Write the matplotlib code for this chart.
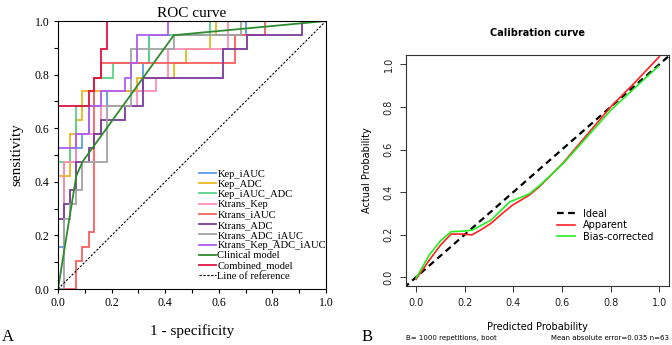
import numpy as np
import matplotlib
matplotlib.use('Agg')
import matplotlib.pyplot as plt

#* ROC curve data (1 - specificity, sensitivity), step corners
kep_iauc_x = [0, 0, 0.023, 0.023, 0.068, 0.068, 0.091, 0.091, 0.114, 0.114, 0.182, 0.182, 0.318, 0.318, 0.341, 0.341, 0.70, 0.70, 1]
kep_iauc_y = [0, 0.158, 0.158, 0.474, 0.474, 0.526, 0.526, 0.579, 0.579, 0.684, 0.684, 0.737, 0.737, 0.842, 0.842, 0.947, 0.947, 1, 1]

kep_adc_x = [0, 0, 0.045, 0.045, 0.068, 0.068, 0.091, 0.091, 0.295, 0.295, 0.432, 0.432, 0.477, 0.477, 0.568, 0.568, 0.591, 0.591, 1]
kep_adc_y = [0, 0.421, 0.421, 0.579, 0.579, 0.632, 0.632, 0.737, 0.737, 0.789, 0.789, 0.842, 0.842, 0.895, 0.895, 0.947, 0.947, 1, 1]

kep_iauc_adc_x = [0, 0, 0.045, 0.045, 0.068, 0.068, 0.136, 0.136, 0.205, 0.205, 0.341, 0.341, 0.568, 0.568, 1]
kep_iauc_adc_y = [0, 0.474, 0.474, 0.526, 0.526, 0.684, 0.684, 0.789, 0.789, 0.842, 0.842, 0.947, 0.947, 1, 1]

ktrans_kep_x = [0, 0, 0.023, 0.023, 0.068, 0.068, 0.159, 0.159, 0.295, 0.295, 0.364, 0.364, 0.409, 0.409, 0.636, 0.636, 1]
ktrans_kep_y = [0, 0.263, 0.263, 0.474, 0.474, 0.579, 0.579, 0.684, 0.684, 0.737, 0.737, 0.789, 0.789, 0.895, 0.895, 1, 1]

ktrans_iauc_x = [0, 0.068, 0.068, 0.091, 0.091, 0.114, 0.114, 0.136, 0.136, 0.159, 0.159, 0.659, 0.659, 0.773, 0.773, 1]
ktrans_iauc_y = [0, 0, 0.105, 0.105, 0.158, 0.158, 0.211, 0.211, 0.789, 0.789, 0.842, 0.842, 0.947, 0.947, 1, 1]

ktrans_adc_x = [0, 0, 0.023, 0.023, 0.045, 0.045, 0.068, 0.068, 0.114, 0.114, 0.136, 0.136, 0.159, 0.159, 0.25, 0.25,
                0.318, 0.318, 0.614, 0.614, 0.705, 0.705, 0.909, 0.909, 1]
ktrans_adc_y = [0, 0.263, 0.263, 0.316, 0.316, 0.368, 0.368, 0.474, 0.474, 0.526, 0.526, 0.579, 0.579, 0.632, 0.632, 0.684,
                0.684, 0.789, 0.789, 0.895, 0.895, 0.947, 0.947, 1, 1]

ktrans_adc_iauc_x = [0, 0.023, 0.023, 0.045, 0.045, 0.068, 0.068, 0.091, 0.091, 0.182, 0.182, 0.273, 0.273, 0.432, 0.432, 0.682, 0.682, 1]
ktrans_adc_iauc_y = [0, 0, 0.263, 0.263, 0.316, 0.316, 0.368, 0.368, 0.474, 0.474, 0.684, 0.684, 0.895, 0.895, 0.947, 0.947, 1, 1]

ktrans_all_x = [0, 0, 0.068, 0.068, 0.114, 0.114, 0.159, 0.159, 0.25, 0.25, 0.273, 0.273, 0.295, 0.295, 0.409, 0.409, 1]
ktrans_all_y = [0, 0.526, 0.526, 0.579, 0.579, 0.684, 0.684, 0.737, 0.737, 0.789, 0.789, 0.842, 0.842, 0.947, 0.947, 1, 1]

clinical_x = [0, 0.068, 0.091, 0.432, 1]
clinical_y = [0, 0.421, 0.474, 0.947, 1]

combined_x = [0, 0, 0.114, 0.114, 0.136, 0.136, 0.159, 0.159, 0.182, 0.182, 1]
combined_y = [0, 0.684, 0.684, 0.737, 0.737, 0.789, 0.789, 0.895, 0.895, 1, 1]

#* Calibration curve data
cal_x_app = [0.0, 0.055, 0.10, 0.144, 0.192, 0.23, 0.27, 0.308, 0.35, 0.397, 0.466, 0.507, 0.603, 0.70, 0.801, 0.90, 1.0]
cal_y_app = [-0.01, 0.081, 0.15, 0.203, 0.203, 0.199, 0.225, 0.253, 0.295, 0.339, 0.386, 0.425, 0.535, 0.665, 0.801, 0.915, 1.036]
cal_x_bias = [0.0, 0.055, 0.10, 0.144, 0.199, 0.233, 0.27, 0.308, 0.35, 0.384, 0.466, 0.507, 0.603, 0.70, 0.801, 0.90, 0.997]
cal_y_bias = [-0.005, 0.105, 0.17, 0.214, 0.217, 0.222, 0.245, 0.268, 0.315, 0.353, 0.392, 0.43, 0.532, 0.655, 0.785, 0.89, 0.992]

curvas = [
    ('Kep_iAUC', kep_iauc_x, kep_iauc_y, '#5B9BE8'),
    ('Kep_ADC', kep_adc_x, kep_adc_y, '#EDB520'),
    ('Kep_iAUC_ADC', kep_iauc_adc_x, kep_iauc_adc_y, '#55D48A'),
    ('Ktrans_Kep', ktrans_kep_x, ktrans_kep_y, '#FF8FB4'),
    ('Ktrans_iAUC', ktrans_iauc_x, ktrans_iauc_y, '#FA5F5F'),
    ('Ktrans_ADC', ktrans_adc_x, ktrans_adc_y, '#7B3A9C'),
    ('Ktrans_ADC_iAUC', ktrans_adc_iauc_x, ktrans_adc_iauc_y, '#A3A3A3'),
    ('Ktrans_Kep_ADC_iAUC', ktrans_all_x, ktrans_all_y, '#B05CF5'),
    ('Clinical model', clinical_x, clinical_y, '#2E8B2E'),
    ('Combined_model', combined_x, combined_y, '#E0123E'),
]

fig = plt.figure(figsize=(6.72, 3.45), dpi=100)

#%%
#* panel A: ROC
serif = 'Liberation Serif'
ax1 = fig.add_axes([58 / 672, 56 / 345, 268 / 672, 268 / 345])
for nombre, xs, ys, col in curvas:
    ax1.plot(xs, ys, color=col, lw=1.3, label=nombre, solid_joinstyle='miter')
ax1.plot([0, 1], [0, 1], color='black', lw=0.8, ls=(0, (2, 1.5)), label='Line of reference')
ax1.set_xlim(0, 1)
ax1.set_ylim(0, 1)
ax1.set_xticks(np.arange(0, 1.01, 0.1))
ax1.set_yticks(np.arange(0, 1.01, 0.1))
ticklab = ['%.1f' % v if i % 2 == 0 else '' for i, v in enumerate(np.arange(0, 1.01, 0.1))]
ax1.set_xticklabels(ticklab, fontfamily=serif, fontsize=8.5)
ax1.set_yticklabels(ticklab, fontfamily=serif, fontsize=8.5)
ax1.tick_params(direction='out', length=3, width=0.8, pad=3)
for s in ax1.spines.values():
    s.set_linewidth(0.8)
ax1.set_title('ROC curve', fontfamily=serif, fontsize=11, pad=3)
ax1.set_xlabel('1 - specificity', fontfamily=serif, fontsize=11, labelpad=11)
ax1.set_ylabel('sensitivity', fontfamily=serif, fontsize=11, labelpad=8)
ax1.legend(loc='lower left', bbox_to_anchor=(0.526, 0.03), frameon=False,
           prop={'family': serif, 'size': 7.6}, handlelength=1.6, handletextpad=0.15,
           labelspacing=0.08, borderaxespad=0, borderpad=0)

#%%
#* panel B: calibration
ax2 = fig.add_axes([406 / 672, 59 / 345, 263 / 672, 231 / 345])
ax2.plot([-0.05, 1.1], [-0.05, 1.1], color='black', lw=1.6, ls=(0, (3, 2)), label='Ideal')
ax2.plot(cal_x_app, cal_y_app, color='#FF2020', lw=1.2, label='Apparent')
ax2.plot(cal_x_bias, cal_y_bias, color='#22EE22', lw=1.2, label='Bias-corrected')
ax2.set_xlim(-0.041, 1.04)
ax2.set_ylim(-0.041, 1.044)
ax2.set_xticks(np.arange(0, 1.01, 0.2))
ax2.set_yticks(np.arange(0, 1.01, 0.2))
ax2.set_xticklabels(['%.1f' % v for v in np.arange(0, 1.01, 0.2)], fontsize=7)
ax2.set_yticklabels(['%.1f' % v for v in np.arange(0, 1.01, 0.2)], fontsize=7, rotation=90, va='center')
ax2.tick_params(direction='out', length=4, width=0.7, pad=5, colors='#333333', labelcolor='#222222')
for s in ax2.spines.values():
    s.set_linewidth(0.8)
    s.set_color('#333333')
ax2.set_title('Calibration curve', fontsize=7, fontweight='bold', pad=14)
ax2.set_xlabel('Predicted Probability', fontsize=7, labelpad=10)
ax2.set_ylabel('Actual Probability', fontsize=7, labelpad=8)
ax2.legend(loc='upper left', bbox_to_anchor=(0.575, 0.335), frameon=False, fontsize=7,
           handlelength=1.85, handletextpad=0.8, labelspacing=0.15, borderaxespad=0, borderpad=0)

fig.text(406 / 672, 1 - 338 / 345, 'B= 1000 repetitions, boot', fontsize=5, ha='left', va='center')
fig.text(669 / 672, 1 - 338 / 345, 'Mean absolute error=0.035 n=63', fontsize=5, ha='right', va='center')
fig.text(2 / 672, 1 - 337 / 345, 'A', fontfamily=serif, fontsize=12, ha='left', va='center')
fig.text(362 / 672, 1 - 337 / 345, 'B', fontfamily=serif, fontsize=12, ha='left', va='center')

fig.savefig('out.png', dpi=100)
